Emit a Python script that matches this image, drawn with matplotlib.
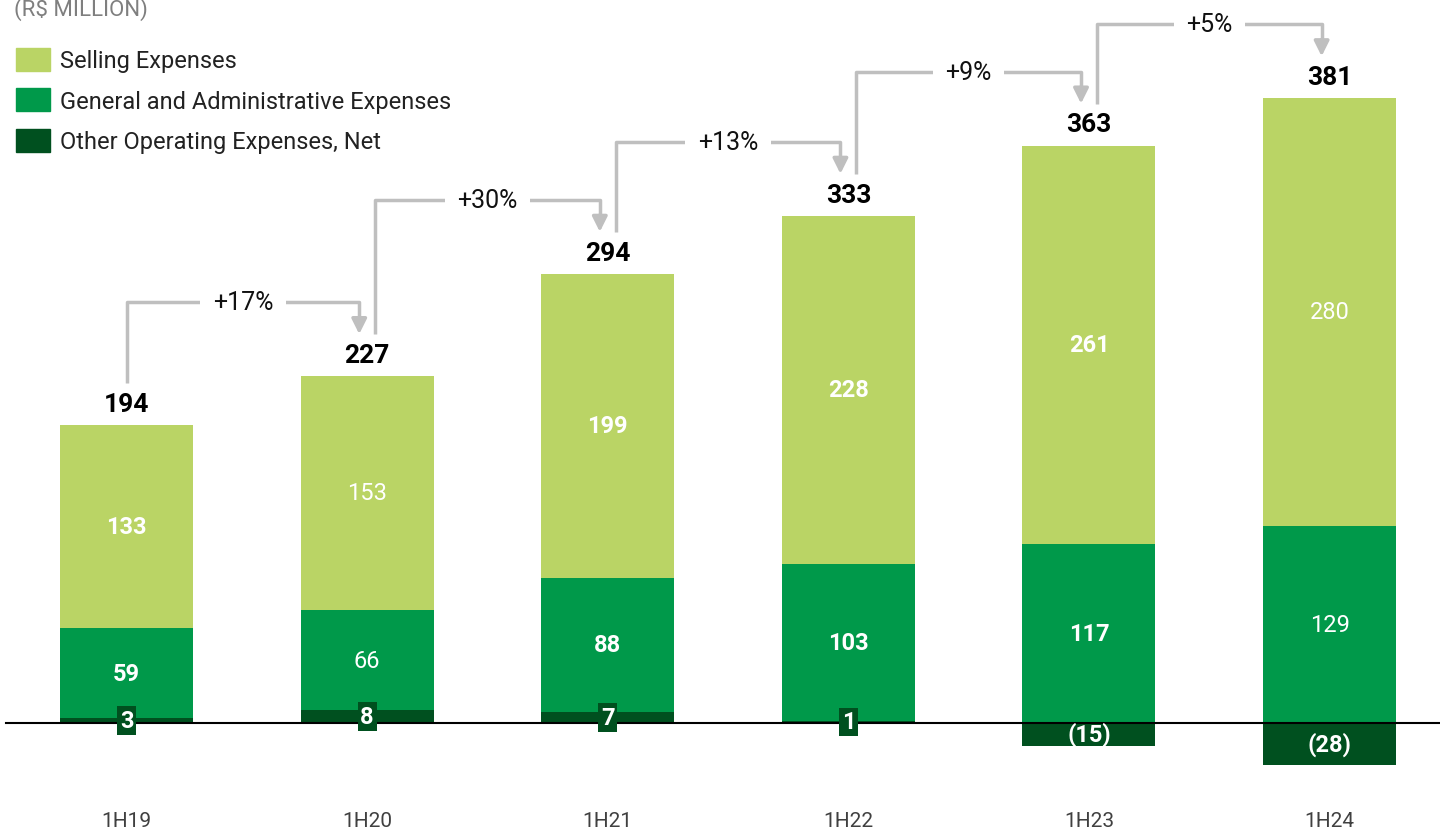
import matplotlib.pyplot as plt
from matplotlib.patches import Patch

plt.rcParams['font.family'] = ['Roboto', 'DejaVu Sans']

periods = ['1H19', '1H20', '1H21', '1H22', '1H23', '1H24']
other = [3, 8, 7, 1, -15, -28]
g_and_a = [59, 66, 88, 103, 117, 129]
selling = [133, 153, 199, 228, 261, 280]
totals = [194, 227, 294, 333, 363, 381]
growth = ['+17%', '+30%', '+13%', '+9%', '+5%']

# segments printed in regular weight (the rest are bold)
light_selling = {'1H20', '1H24'}
light_ga = {'1H20', '1H24'}

c_sell = '#BAD465'
c_ga = '#00994A'
c_other = '#00501F'
c_arrow = '#BFBFBF'

fig = plt.figure(figsize=(14.4, 8.29), dpi=100)
ax = fig.add_axes([0, 0, 1, 1])
ax.set_xlim(-0.526, 5.459)
ax.set_ylim(-69.0, 474.0)
ax.axis('off')

x = list(range(len(periods)))
w = 0.553

pos_base = [max(o, 0) for o in other]
ax.bar(x, other, w, color=c_other, zorder=2)
ax.bar(x, g_and_a, w, bottom=pos_base, color=c_ga, zorder=2)
sell_base = [b + g for b, g in zip(pos_base, g_and_a)]
ax.bar(x, selling, w, bottom=sell_base, color=c_sell, zorder=2)
tops = [b + s for b, s in zip(sell_base, selling)]

ax.plot([-0.5, 5.5], [0, 0], color='black', lw=1.5, zorder=3)

for i, p in enumerate(periods):
    ax.text(i, sell_base[i] + selling[i] / 2, str(selling[i]), ha='center', va='center',
            color='white', fontsize=17,
            fontweight='normal' if p in light_selling else 'bold')
    ax.text(i, pos_base[i] + g_and_a[i] / 2, str(g_and_a[i]), ha='center', va='center',
            color='white', fontsize=17,
            fontweight='normal' if p in light_ga else 'bold')
    o = other[i]
    if o > 0:
        ax.text(i, o / 2, str(o), ha='center', va='center', color='white',
                fontsize=17, fontweight='bold', zorder=5,
                bbox=dict(boxstyle='square,pad=0.12', fc=c_other, ec='none'))
    else:
        ax.text(i, o / 2, '(%d)' % abs(o), ha='center', va='center', color='white',
                fontsize=17, fontweight='bold', zorder=5)
    ax.annotate(str(totals[i]), (i, tops[i]), xytext=(0, 15.2), textcoords='offset points',
                ha='center', va='center', fontsize=19, fontweight='bold', color='black')
    ax.text(i, -64.2, p, ha='center', va='center', fontsize=15, color='#404040')

# growth connectors between consecutive bars
rise, gap = 27.5, 48.5
dx = 0.033
for i, g in enumerate(growth):
    x0 = i if i == 0 else i + dx
    x1 = i + 1 - dx
    yh = tops[i + 1] + gap
    ax.plot([x0, x0, x1, x1], [tops[i] + rise, yh, yh, tops[i + 1] + rise + 10],
            color=c_arrow, lw=2.5, solid_capstyle='butt', zorder=1)
    ax.annotate('', xy=(x1, tops[i + 1] + rise), xytext=(x1, tops[i + 1] + rise + 11),
                arrowprops=dict(arrowstyle='-|>,head_length=0.9,head_width=0.45',
                                color=c_arrow, lw=2.5, shrinkA=0, shrinkB=0))
    ax.text((x0 + x1) / 2, yh, g, ha='center', va='center', fontsize=18, color='#111111',
            bbox=dict(boxstyle='square,pad=0.5', fc='white', ec='none'), zorder=4)

fig.text(14 / 1440, 1 - 16 / 829, '(R$ MILLION)', ha='left', va='baseline',
         fontsize=16, color='#7F7F7F')

handles = [Patch(color=c_sell, label='Selling Expenses'),
           Patch(color=c_ga, label='General and Administrative Expenses'),
           Patch(color=c_other, label='Other Operating Expenses, Net')]
fig.legend(handles=handles, loc='upper left', bbox_to_anchor=(16 / 1440, 1 - 49 / 829),
           frameon=False, fontsize=17, handlelength=1.45, handleheight=1.1,
           handletextpad=0.42, labelspacing=0.68, borderpad=0, borderaxespad=0,
           labelcolor='#222222')

fig.savefig('out.png', dpi=100)
